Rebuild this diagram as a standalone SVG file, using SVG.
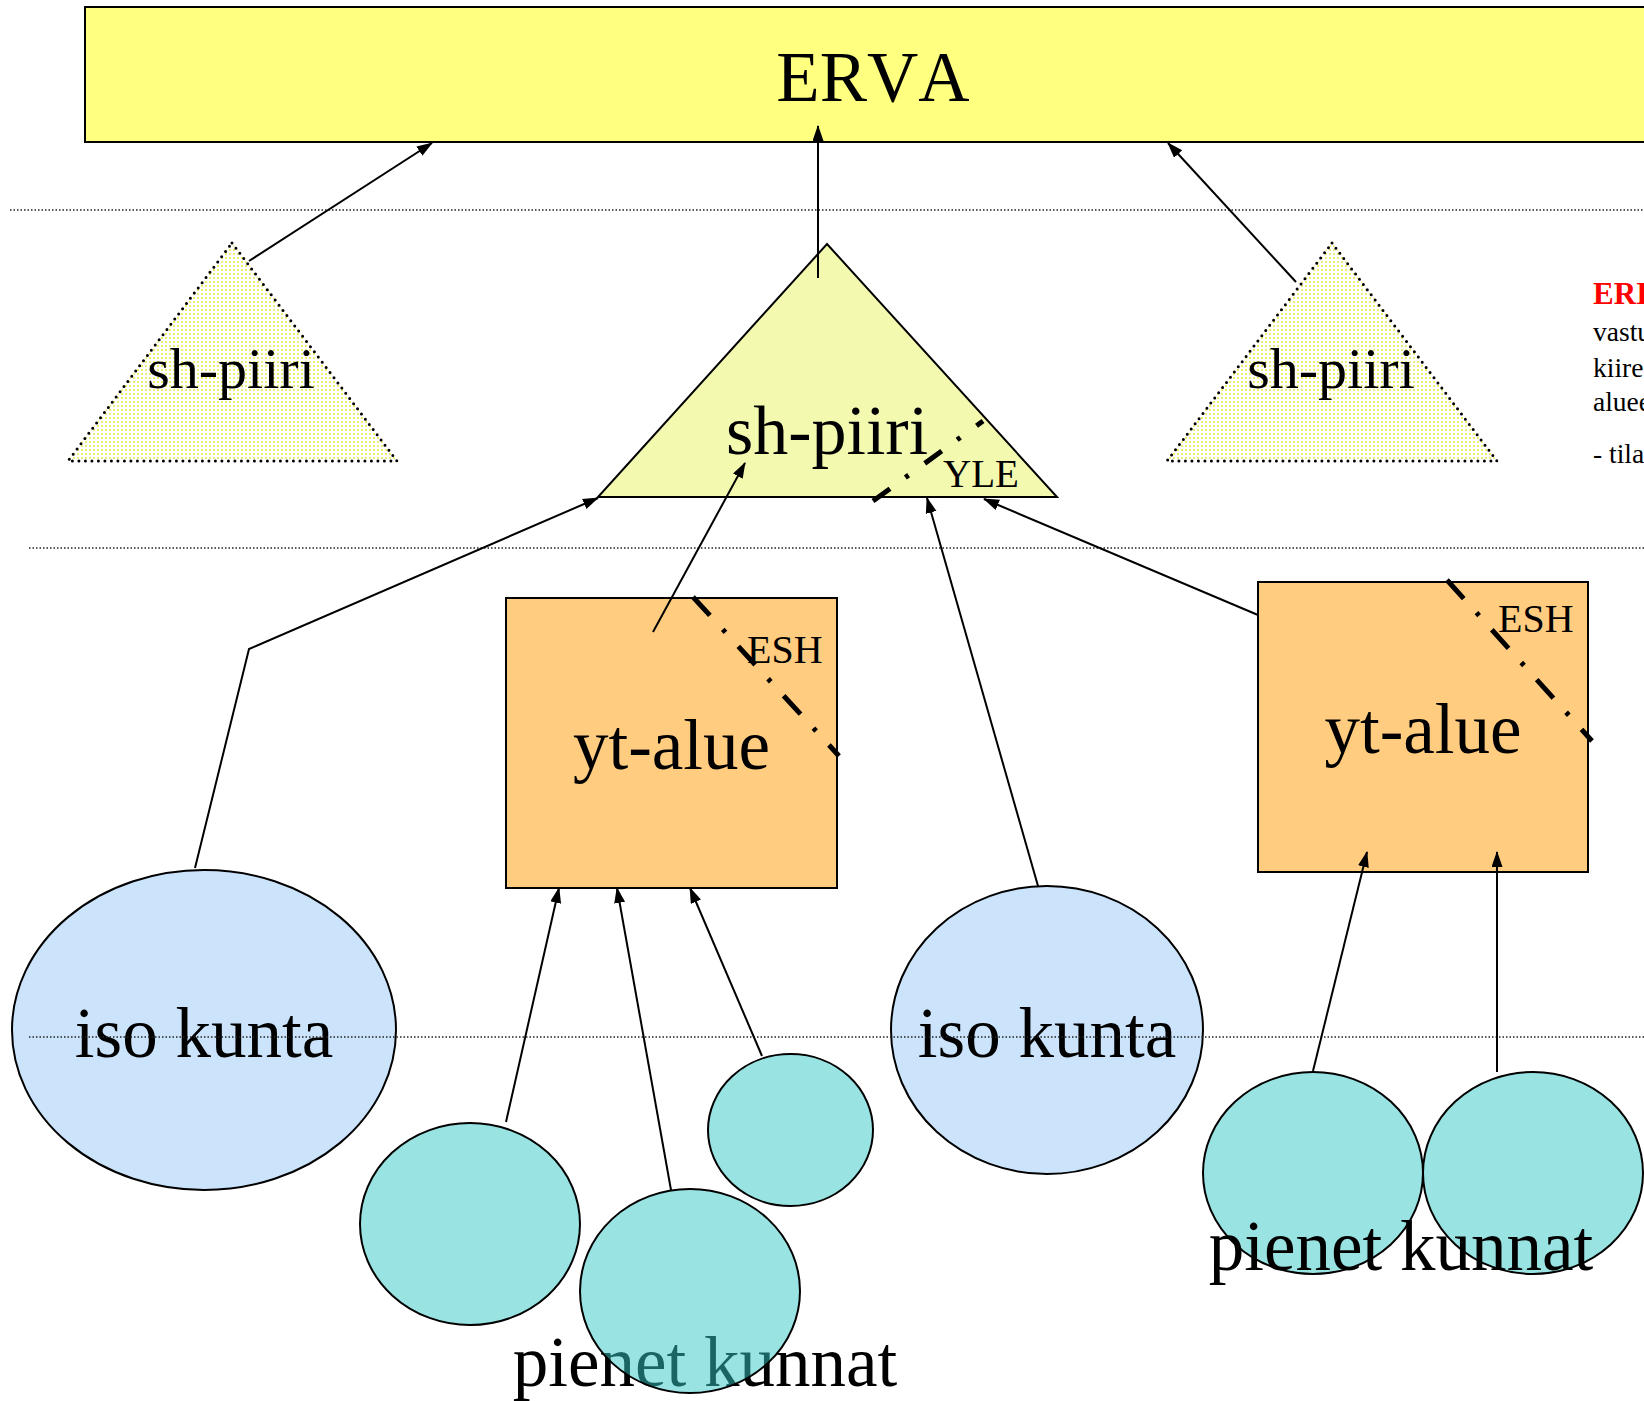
<svg xmlns="http://www.w3.org/2000/svg" width="1644" height="1401" viewBox="0 0 1644 1401">
<style>
.t{font-family:"Liberation Serif","Times New Roman",serif;fill:#000;font-kerning:none}
.big{font-size:71px}
.mid{font-size:58px}
.sm{font-size:40px}
.note{font-size:27.5px}
.sep{stroke:#222;stroke-width:1.4;stroke-dasharray:1.5 2;fill:none}
.con{stroke:#000;stroke-width:2;fill:none}
.dd{stroke:#000;stroke-width:5;fill:none}
.dottri{stroke:#000;stroke-width:3;stroke-linecap:round;stroke-dasharray:0 6.5;fill:url(#dots)}
.teal{fill:#99e3e3;stroke:#000;stroke-width:2}
.blue{fill:#cbe4fc;stroke:#000;stroke-width:2}
.orange{fill:#ffcc80;stroke:#000;stroke-width:2}
</style>
<defs>
<pattern id="dots" width="4" height="4" patternUnits="userSpaceOnUse">
<rect width="4" height="4" fill="#ffffff"/>
<rect x="1" y="1" width="2" height="2" fill="#eeee70"/>
</pattern>
<marker id="ah" markerUnits="userSpaceOnUse" markerWidth="16" markerHeight="12" refX="15" refY="5.5" orient="auto">
<path d="M0,0 L16,5.5 L0,11 z" fill="#000"/>
</marker>
</defs>
<rect width="1644" height="1401" fill="#ffffff"/>

<g id="erva">
<rect x="85" y="7" width="1640" height="135" fill="#ffff80" stroke="#000" stroke-width="2"/>
<text class="t big" x="873" y="101" text-anchor="middle">ERVA</text>
</g>

<g id="separators">
<line class="sep" x1="10" y1="210" x2="1644" y2="210"/>
<line class="sep" x1="29" y1="548" x2="1644" y2="548"/>
</g>

<g id="sh-piiri-left">
<polygon class="dottri" points="232,243 397,461 68,461"/>
<text class="t mid" x="231" y="388" text-anchor="middle">sh-piiri</text>
</g>

<g id="sh-piiri-right">
<polygon class="dottri" points="1332,243 1497,461 1167,461"/>
<text class="t mid" x="1331" y="388" text-anchor="middle">sh-piiri</text>
</g>

<g id="sh-piiri-center">
<polygon points="827,244 1057,497 598,497" fill="#f4f9b0" stroke="#000" stroke-width="2"/>
<text class="t" style="font-size:70px" x="827" y="454" text-anchor="middle">sh-piiri</text>
<line class="dd" x1="873" y1="501" x2="983" y2="421" stroke-dasharray="21 19 4 20"/>
<text class="t" style="font-size:39px" x="943" y="487">YLE</text>
</g>

<g id="yt-alue-left">
<rect class="orange" x="506" y="598" width="331" height="290"/>
<text class="t big" x="671.5" y="769" text-anchor="middle">yt-alue</text>
<line class="dd" x1="693" y1="597" x2="839" y2="756" stroke-dasharray="25 19 4 19"/>
<text class="t sm" x="747" y="663">ESH</text>
</g>

<g id="yt-alue-right">
<rect class="orange" x="1258" y="582" width="330" height="290"/>
<text class="t big" x="1423" y="753" text-anchor="middle">yt-alue</text>
<line class="dd" x1="1447" y1="580" x2="1592" y2="741" stroke-dasharray="25 19 4 19"/>
<text class="t sm" x="1498" y="632">ESH</text>
</g>

<g id="iso-kunta-left">
<ellipse class="blue" cx="204" cy="1030" rx="192" ry="160"/>
<text class="t big" x="204" y="1057" text-anchor="middle">iso kunta</text>
</g>

<g id="iso-kunta-right">
<ellipse class="blue" cx="1047" cy="1030" rx="156" ry="144"/>
<text class="t big" x="1047" y="1057" text-anchor="middle">iso kunta</text>
</g>

<g id="pienet-kunnat-left-label">
<text class="t big" x="705" y="1386" text-anchor="middle">pienet kunnat</text>
</g>

<g id="kunta-small-1">
<ellipse class="teal" cx="470" cy="1224" rx="110" ry="101"/>
</g>
<g id="kunta-small-2">
<ellipse cx="690" cy="1291" rx="110" ry="102" fill="#33c7c7" fill-opacity="0.5" stroke="#000" stroke-width="2"/>
</g>
<g id="kunta-small-3">
<ellipse class="teal" cx="790.5" cy="1130" rx="82.5" ry="76"/>
</g>

<g id="kunta-small-a">
<ellipse class="teal" cx="1313" cy="1173" rx="110" ry="101"/>
</g>
<g id="kunta-small-b">
<ellipse class="teal" cx="1533" cy="1173" rx="110" ry="101"/>
</g>
<g id="pienet-kunnat-right-label">
<text class="t big" x="1401" y="1270" text-anchor="middle">pienet kunnat</text>
</g>

<g id="side-note">
<text class="t" style="font-size:31px;font-weight:bold;fill:#ff0000" x="1593" y="304">ERI</text>
<text class="t note" x="1593" y="341">vastu</text>
<text class="t note" x="1593" y="377">kiire</text>
<text class="t note" x="1593" y="411">aluee</text>
<text class="t note" x="1593" y="463">- tila</text>
</g>

<g id="separator-bottom">
<line class="sep" x1="29" y1="1037" x2="1644" y2="1037"/>
</g>

<g id="connectors">
<line class="con" x1="249" y1="261" x2="432" y2="143" marker-end="url(#ah)"/>
<line class="con" x1="818" y1="278" x2="818" y2="126" marker-end="url(#ah)"/>
<line class="con" x1="1296" y1="282" x2="1168" y2="143" marker-end="url(#ah)"/>
<polyline class="con" points="195,868 249,649 598,498" marker-end="url(#ah)"/>
<line class="con" x1="653" y1="632" x2="745" y2="463" marker-end="url(#ah)"/>
<line class="con" x1="1038" y1="886" x2="927" y2="498" marker-end="url(#ah)"/>
<line class="con" x1="1258" y1="615" x2="984" y2="499" marker-end="url(#ah)"/>
<line class="con" x1="506" y1="1122" x2="559" y2="888" marker-end="url(#ah)"/>
<line class="con" x1="671" y1="1190" x2="617" y2="888" marker-end="url(#ah)"/>
<line class="con" x1="762" y1="1056" x2="690" y2="888" marker-end="url(#ah)"/>
<line class="con" x1="1313" y1="1071" x2="1367" y2="852" marker-end="url(#ah)"/>
<line class="con" x1="1497" y1="1072" x2="1497" y2="852" marker-end="url(#ah)"/>
</g>
</svg>
